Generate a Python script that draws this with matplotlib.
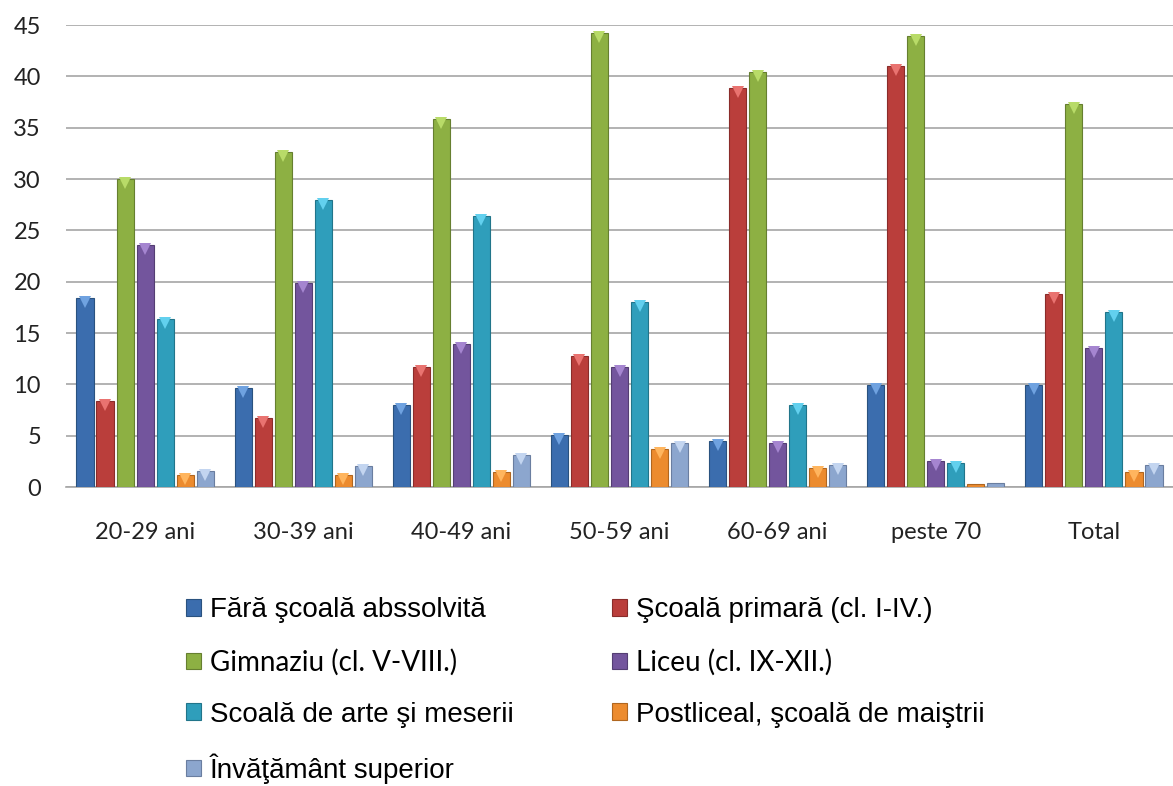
import numpy as np
import matplotlib
matplotlib.use("Agg")
from matplotlib import pyplot as plt
from matplotlib import transforms

''' date '''
categories = ["20-29 ani", "30-39 ani", "40-49 ani", "50-59 ani", "60-69 ani", "peste 70", "Total"]
series_names = ["Fără şcoală abssolvită", "Şcoală primară (cl. I-IV.)", "Gimnaziu (cl. V-VIII.)",
                "Liceu (cl. IX-XII.)", "Scoală de arte şi meserii", "Postliceal, şcoală de maiştrii",
                "Învăţământ superior"]
fara_scoala = [18.4, 9.6, 8.0, 5.1, 4.5, 9.9, 9.9]
primara = [8.4, 6.7, 11.7, 12.8, 38.9, 41.0, 18.8]
gimnaziu = [30.0, 32.6, 35.8, 44.2, 40.4, 43.9, 37.3]
liceu = [23.6, 19.9, 13.9, 11.7, 4.3, 2.5, 13.5]
arte_meserii = [16.4, 28.0, 26.4, 18.0, 8.0, 2.3, 17.0]
postliceal = [1.2, 1.2, 1.5, 3.7, 1.85, 0.26, 1.5]
superior = [1.6, 2.0, 3.1, 4.3, 2.1, 0.4, 2.1]
yticks = [0, 5, 10, 15, 20, 25, 30, 35, 40, 45]

series = [fara_scoala, primara, gimnaziu, liceu, arte_meserii, postliceal, superior]
colors = ["#3B6DAE", "#BA3E3B", "#8DB043", "#73559D", "#2F9EBB", "#EC8B2E", "#8CA6CE"]
edges = ["#2A527F", "#8A2C2A", "#667F30", "#543E73", "#21758A", "#B0661F", "#6A7EA0"]
tops = ["#6FA2E0", "#E97370", "#B8DB68", "#A585D0", "#62D0EE", "#FFB55E", "#C3D5F0"]

fig = plt.figure(figsize=(11.73, 7.86), dpi=100)
ax = fig.add_axes([66/1173, 1-487/786, 1-66/1173, (487-25)/786])

x = np.arange(len(categories))
pitch = 0.1266
width = 0.108
handles = []
# triunghiul deschis de sus (efect bevel)
shift = transforms.ScaledTranslation(0, -4/100, fig.dpi_scale_trans)
for i, vals in enumerate(series):
    offs = (i - 3) * pitch
    b = ax.bar(x + offs, vals, width, color=colors[i], edgecolor=edges[i], linewidth=0.8,
               label=series_names[i], zorder=3)
    handles.append(b)
    v = np.array(vals)
    m = v > 0.8
    ax.plot((x + offs)[m], v[m], linestyle="none", marker="v", markersize=8,
            color=tops[i], markeredgewidth=0, zorder=4, transform=ax.transData + shift)

ax.set_xlim(-0.5, len(categories) - 0.5)
ax.set_ylim(0, 45)
ax.set_yticks(yticks)
ax.yaxis.grid(True, color="#A6A6A6", linewidth=1.2, zorder=0)
for s in ["top", "right", "left"]:
    ax.spines[s].set_visible(False)
ax.spines["bottom"].set_color("#A6A6A6")
ax.spines["bottom"].set_linewidth(1.2)
ax.tick_params(axis="both", length=0, labelsize=17, colors="#222222")
ax.tick_params(axis="y", pad=18)
ax.tick_params(axis="x", pad=25)
ax.set_xticks(x)
ax.set_xticklabels(categories)
for lab in ax.get_xticklabels() + ax.get_yticklabels():
    lab.set_family(["Lato", "DejaVu Sans"])

''' legenda, ordinea pe randuri '''
order = [0, 2, 4, 6, 1, 3, 5]
leg = fig.legend([handles[k] for k in order], [series_names[k] for k in order],
                 loc="upper left", bbox_to_anchor=(186/1173, 1-597/786), ncol=2,
                 frameon=False, handlelength=0.55, handleheight=0.55, handletextpad=0.3,
                 columnspacing=3.55, labelspacing=0.93, borderpad=0, borderaxespad=0,
                 prop={"family": ["Liberation Sans", "DejaVu Sans"], "size": 20})
for t in leg.get_texts():
    if t.get_text().startswith(("Gimnaziu", "Liceu")):
        t.set_family(["Lato", "DejaVu Sans"])

fig.savefig("out.png", dpi=100)
